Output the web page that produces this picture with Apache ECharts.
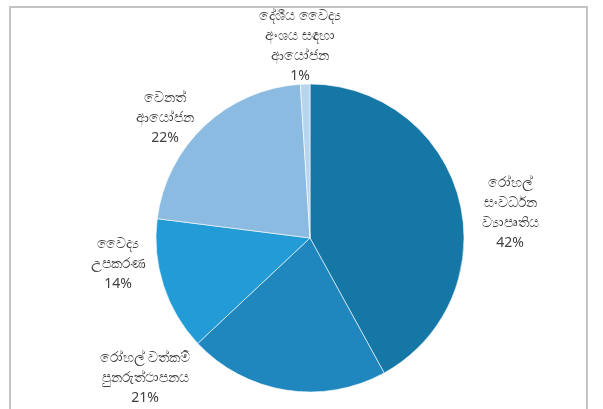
<!DOCTYPE html>
<html>
<head>
<meta charset="utf-8">
<script src="https://cdn.jsdelivr.net/npm/echarts@6/dist/echarts.min.js"></script>
<style>
html,body{margin:0;padding:0;background:#fff;}
#chart{width:603px;height:409px;}
</style>
</head>
<body>
<div id="chart"></div>
<script>
// Data
var categories = [
  'රෝහල්\nසංවර්ධන\nව්‍යාපෘතිය',
  'රෝහල් වත්කම්\nපුනරුත්ථාපනය',
  'වෛද්‍ය\nඋපකරණ',
  'වෙනත්\nආයෝජන',
  'දේශීය වෛද්‍ය\nඅංශය සඳහා\nආයෝජන'
];
var values = [42, 21, 14, 22, 1];

// Style / layout
var colors = ['#1477a6', '#1f86be', '#229bd6', '#8cbbe2', '#b9d4ee'];
var labelPos = [[510, 213], [145, 378], [118, 264], [165, 118], [300, 46]];

var chart = echarts.init(document.getElementById('chart'), null, {renderer: 'canvas'});
var seriesData = categories.map(function (c, i) {
  return {name: c, value: values[i], itemStyle: {color: colors[i]}};
});
chart.setOption({
  animation: false,
  graphic: [{
    type: 'rect',
    shape: {x: 10, y: 7, width: 577, height: 420},
    style: {fill: 'none', stroke: '#c3c3c3', lineWidth: 2},
    silent: true
  }],
  series: [{
    type: 'pie',
    center: [310, 238],
    radius: 154,
    startAngle: 90,
    clockwise: true,
    data: seriesData,
    itemStyle: {borderColor: '#ffffff', borderWidth: 0.6},
    label: {
      show: true,
      position: 'outside',
      formatter: function (p) { return p.name + '\n' + p.value + '%'; },
      fontSize: 14,
      lineHeight: 20,
      color: '#404040',
      align: 'center',
      fontFamily: 'Noto Sans, DejaVu Sans, sans-serif'
    },
    labelLine: {show: false},
    labelLayout: function (params) {
      var p = labelPos[params.dataIndex];
      return {x: p[0], y: p[1], align: 'center', verticalAlign: 'middle'};
    }
  }]
});
</script>
</body>
</html>
